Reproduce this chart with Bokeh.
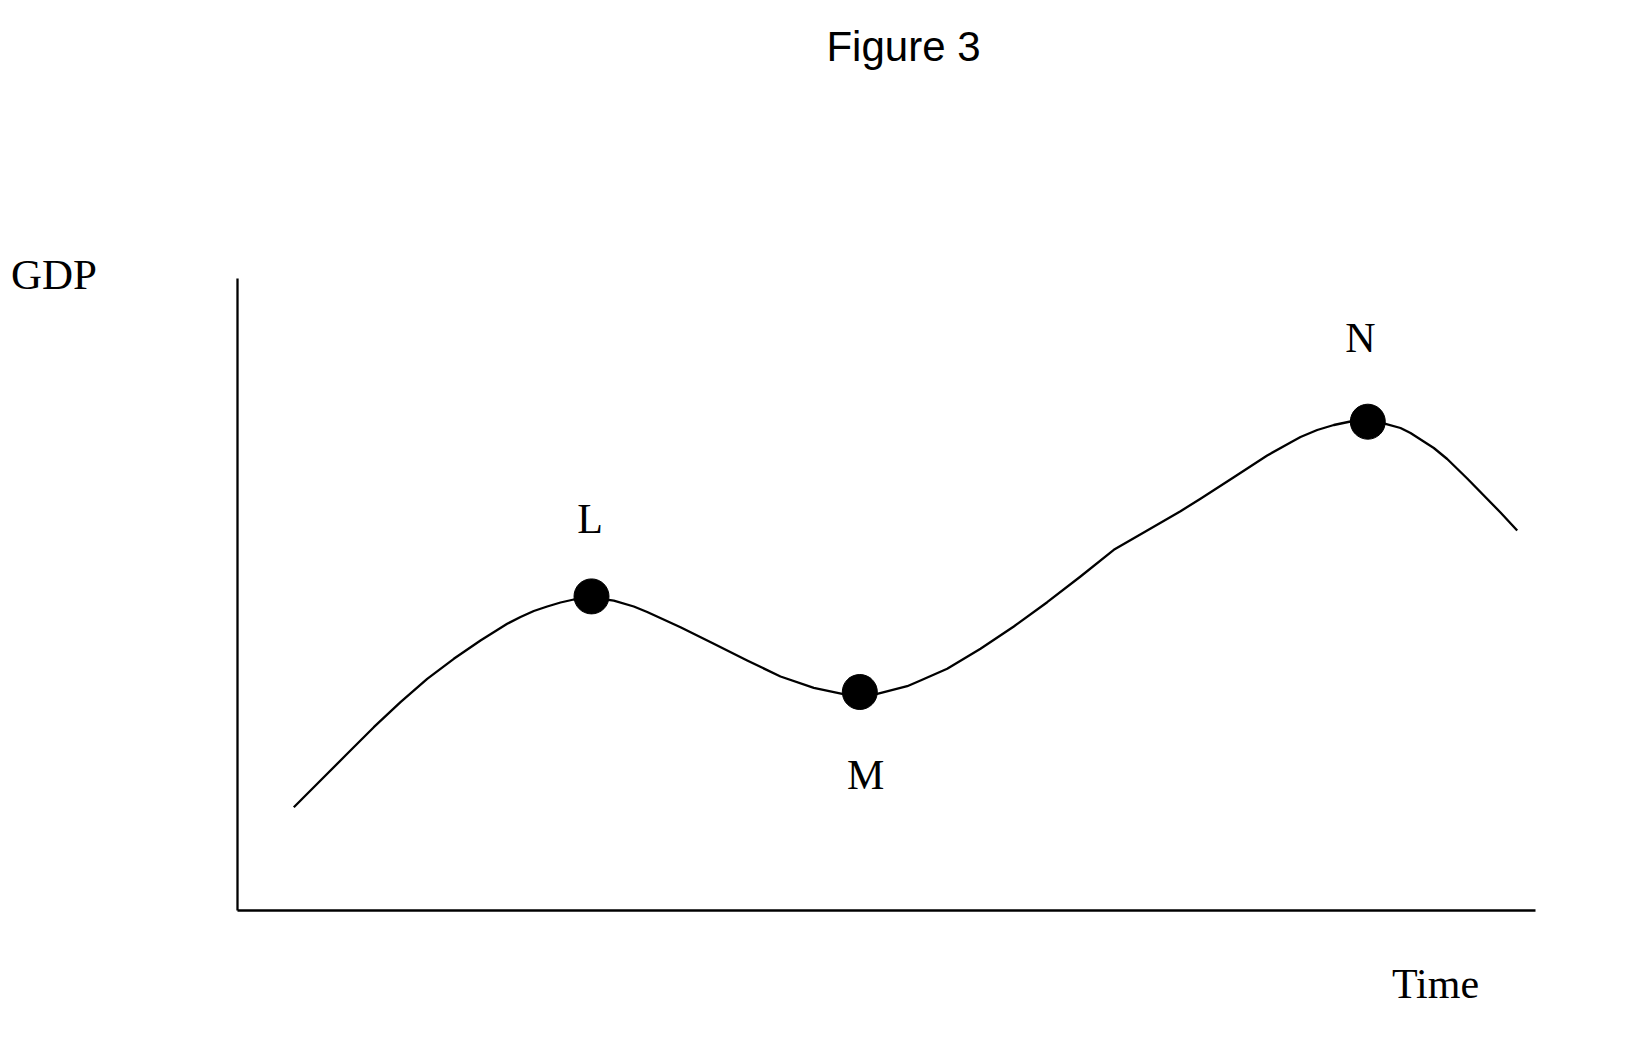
from bokeh.plotting import figure
from bokeh.models import Range1d, Label, FixedTicker, LinearAxis
from bokeh.embed import file_html
from bokeh.resources import INLINE

# ---- data (time and GDP in arbitrary units) ----
time_vals = [5.63, 8.30, 10.97, 13.63, 16.30, 18.97, 21.63, 24.30, 26.97, 28.30,
             29.63, 30.97, 32.30, 33.63, 35.40, 37.63, 39.63, 40.97, 44.30, 47.63,
             50.97, 54.30, 57.63, 60.47, 62.23, 63.97, 66.97, 68.30, 70.97,
             74.30, 77.63, 80.97, 84.30, 87.63, 90.97, 94.30, 96.30, 99.63, 102.97,
             105.30, 106.30, 107.97, 109.63, 111.30, 113.03, 114.80, 116.30, 117.30,
             119.63, 120.97, 122.97, 126.30, 127.97]
gdp_vals = [10.33, 13.00, 15.67, 18.33, 20.83, 23.17, 25.17, 27.00, 28.67, 29.35,
            29.95, 30.40, 30.80, 31.10, 31.30, 30.98, 30.40, 29.85, 28.33, 26.67,
            25.00, 23.40, 22.27, 21.67, 21.60, 21.67, 22.43, 23.00, 24.17,
            26.17, 28.40, 30.83, 33.40, 36.07, 38.00, 39.93, 41.17, 43.33, 45.50,
            46.80, 47.35, 48.05, 48.55, 48.90, 49.00, 48.67, 48.25, 47.75,
            46.25, 45.15, 43.20, 39.80, 38.00]

point_names = ["L", "M", "N"]
point_time = [35.40, 62.23, 113.03]
point_gdp = [31.41, 21.85, 48.88]

label_time = [35.27, 62.81, 112.3]
label_gdp = [39.12, 13.59, 57.25]

title_text = "Figure 3"
y_label_text = "GDP"
x_label_text = "Time"

x_max = 129.8   # length of the time axis
y_max = 63.2    # length of the GDP axis

p = figure(width=1618, height=1040, output_backend="svg", toolbar_location=None,
           x_range=Range1d(-23.7, 138.1), y_range=Range1d(-13.0, 91.0),
           min_border=0, x_axis_type=None, y_axis_type=None)
p.outline_line_color = None
p.background_fill_color = "white"
p.border_fill_color = "white"
p.grid.visible = False

for side, bnd in (("below", (0, x_max)), ("left", (0, y_max))):
    ax = LinearAxis(ticker=FixedTicker(ticks=[]), fixed_location=0, bounds=bnd)
    ax.axis_line_color = "black"
    ax.axis_line_width = 2.3
    ax.major_tick_line_color = None
    ax.minor_tick_line_color = None
    ax.major_tick_out = 0
    ax.major_tick_in = 0
    ax.minor_tick_out = 0
    ax.minor_tick_in = 0
    ax.major_label_standoff = 0
    ax.major_label_text_font_size = "0px"
    p.add_layout(ax, side)

p.line(time_vals, gdp_vals, line_color="black", line_width=2.3, line_join="round")
p.scatter(point_time, point_gdp, size=35, marker="circle",
          fill_color="black", line_color="black")

serif = "Liberation Serif"
for name, tx, gy in zip(point_names, label_time, label_gdp):
    p.add_layout(Label(x=tx, y=gy, text=name, text_align="center",
                       text_baseline="alphabetic", text_font=serif,
                       text_font_size="42px", text_color="black"))

p.add_layout(Label(x=66.6, y=86.4, text=title_text, text_align="center",
                   text_baseline="alphabetic", text_font="Liberation Sans",
                   text_font_size="42px", text_color="black"))
p.add_layout(Label(x=-22.66, y=63.6, text=y_label_text, text_align="left",
                   text_baseline="alphabetic", text_font=serif,
                   text_font_size="43px", text_color="black"))
p.add_layout(Label(x=119.8, y=-7.3, text=x_label_text, text_align="center",
                   text_baseline="alphabetic", text_font=serif,
                   text_font_size="42px", text_color="black"))

open("out.html", "w").write(file_html(p, INLINE))
